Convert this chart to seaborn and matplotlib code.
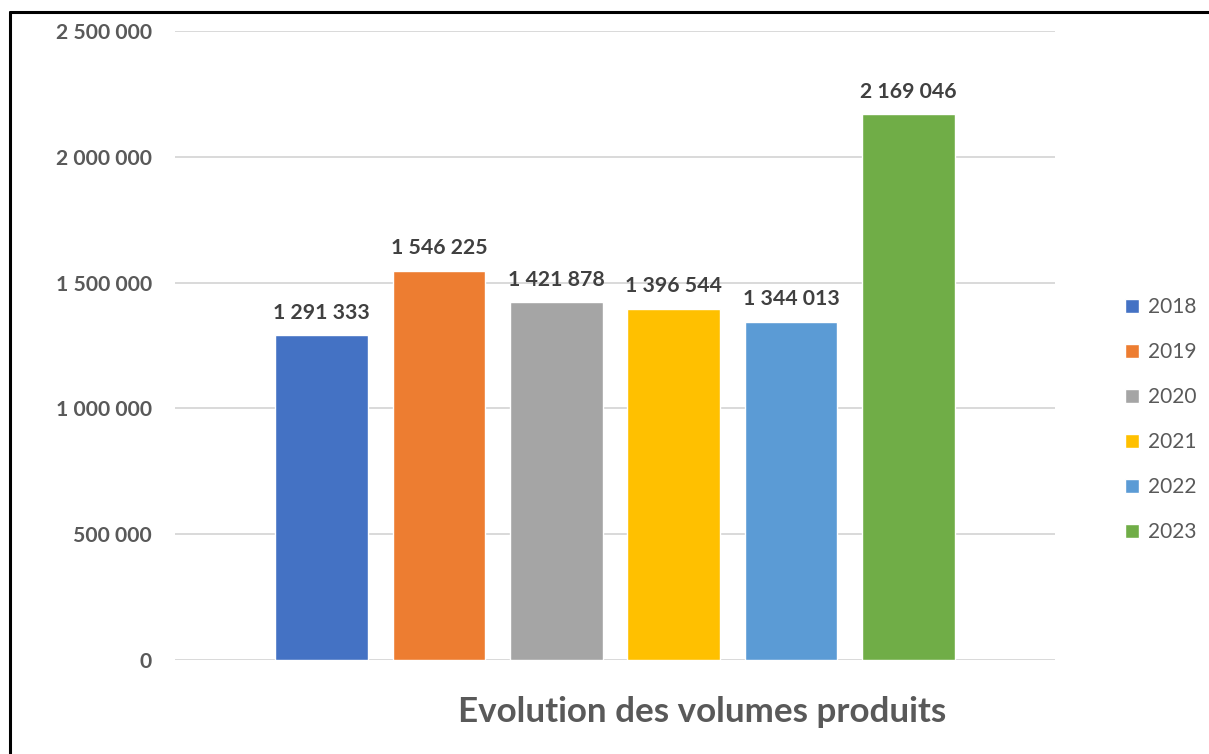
import matplotlib
matplotlib.use("Agg")
import matplotlib.pyplot as plt
import seaborn as sns
import pandas as pd
from matplotlib.lines import Line2D
from matplotlib.ticker import FuncFormatter

years = ["2018", "2019", "2020", "2021", "2022", "2023"]
volumes = [1291333, 1546225, 1421878, 1396544, 1344013, 2169046]
colors = ["#4472C4", "#ED7D31", "#A5A5A5", "#FFC000", "#5B9BD5", "#70AD47"]
yticks = [0, 500000, 1000000, 1500000, 2000000, 2500000]
title = "Evolution des volumes produits"

def fmt(v):
    return f"{int(v):,}".replace(",", " ")

sns.set_theme(style="white")
plt.rcParams["font.family"] = ["Lato", "DejaVu Sans"]

df = pd.DataFrame({"year": years, "volume": volumes})

fig = plt.figure(figsize=(12.09, 7.54), dpi=100)
ax = fig.add_axes([0.1447, 0.1247, 0.7279, 0.8342])

sns.barplot(data=df, x="year", y="volume", hue="year", palette=colors,
            dodge=False, width=0.79, ax=ax, legend=True, saturation=1)

ax.set_ylim(0, 2500000)
ax.set_xlim(-1.25, 6.25)
ax.set_yticks(yticks)
ax.yaxis.set_major_formatter(FuncFormatter(lambda v, p: fmt(v)))
ax.tick_params(axis="y", length=0, pad=16.5, labelsize=15.2, labelcolor="#595959")
for t in ax.get_yticklabels():
    t.set_fontweight("bold")
ax.set_xticks([])
ax.set_xlabel("")
ax.set_ylabel("")
ax.grid(axis="y", color="#D9D9D9", linewidth=1.4)
ax.set_axisbelow(True)
for s in ax.spines.values():
    s.set_visible(False)

for cont in ax.containers:
    ax.bar_label(cont, labels=[fmt(v) for v in cont.datavalues], padding=9,
                 fontsize=15.3, fontweight="bold", color="#404040")

leg = ax.legend(loc="center left", bbox_to_anchor=(1.058, 0.382), frameon=False,
                fontsize=15, labelspacing=1.2, handlelength=0.7, handleheight=0.7,
                handletextpad=0.4)
for t in leg.get_texts():
    t.set_color("#595959")

fig.text(0.581, 0.056, title, ha="center", va="center", fontsize=25.2,
         fontweight="bold", color="#595959")

fig.add_artist(Line2D([0.0083, 1.0], [0.984, 0.984], color="black", linewidth=2.2,
                      transform=fig.transFigure))
fig.add_artist(Line2D([0.0083, 0.0083], [0.0, 0.984], color="black", linewidth=2.2,
                      transform=fig.transFigure))

fig.savefig("out.png", dpi=100, facecolor="white")
